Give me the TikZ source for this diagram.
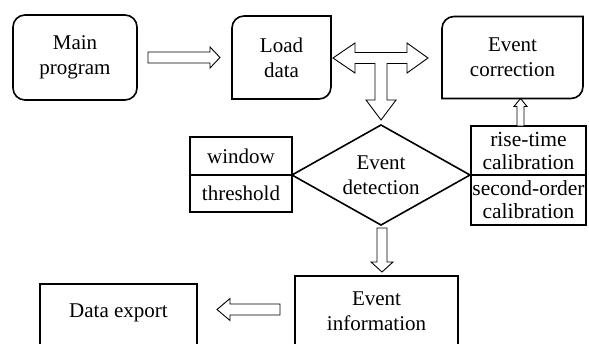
\documentclass[tikz,border=0pt]{standalone}
\usepackage{fontspec}
\setmainfont{Liberation Serif}
\usetikzlibrary{shapes,arrows,calc,positioning}

\tikzset{
  box/.style={draw, line width=1.6pt, outer sep=0pt, inner sep=0pt, align=center,
    font=\fontsize{21}{25}\selectfont},
  plain/.style={box, draw=none},
  decision/.style={box, diamond, aspect=1.78},
  calib/.style={box, font=\fontsize{21.5}{23}\selectfont, minimum width=115pt},
  blk/.style={draw, fill=white, line width=0.9pt, line join=miter},
  blockarrow/.style args={#1/#2/#3}{to path={
    let \p1=(\tikztostart), \p2=(\tikztotarget),
        \n1={atan2(\y2-\y1,\x2-\x1)}, \n2={veclen(\x2-\x1,\y2-\y1)} in
    [shift={(\p1)}, rotate=\n1]
    (0pt,#1pt) -- ({(\n2-#3)*1pt},#1pt) -- ({(\n2-#3)*1pt},#2pt) -- ({\n2*1pt},0pt)
    -- ({(\n2-#3)*1pt},-#2pt) -- ({(\n2-#3)*1pt},-#1pt) -- (0pt,-#1pt) -- cycle}}
}

\begin{document}
\begin{tikzpicture}[x=1pt, y=-1pt]
	\useasboundingbox (0,0) rectangle (589,343);
	\clip (0,0) rectangle (589,343);
	\node[box, rounded corners=12pt, minimum width=124pt, minimum height=85pt] (main) at (75,57.5) {Main\\program};
	\node[plain, minimum width=99pt, minimum height=83pt, right=95pt of main] (load) {Load\\data};
	\node[plain, minimum width=141pt, minimum height=82pt, right=111pt of load] (corr) {Event\\correction};
	\node[decision, minimum width=178pt, minimum height=100pt] (det) at (381,175) {Event\\detection};
	\node[box, minimum width=102pt, minimum height=38pt, above left=0pt and 0pt of det.west] (win) {window};
	\node[box, minimum width=102pt, minimum height=37pt, below left=0pt and 0pt of det.west] (thr) {threshold};
	\node[calib, minimum height=49pt, above right=0pt and 1pt of det.east] (rise) {rise-time\\calibration};
	\node[calib, minimum height=50pt, below right=0pt and 1pt of det.east] (sec) {second-order\\calibration};
	\node[box, minimum width=163pt, minimum height=71pt] (info) at (376.5,311.5) {Event\\information};
	\node[box, minimum width=157pt, minimum height=66pt, text height=12pt, text depth=12pt] (expo) at (118.5,317) {Data export};
	\draw[line width=1.6pt, line join=miter] (load.south west) [rounded corners=12pt] -- (load.north west) [sharp corners] -- (load.north east) [rounded corners=12pt] -- (load.south east) [sharp corners] -- cycle;
	\draw[line width=1.6pt, line join=miter] (corr.south west) [rounded corners=12pt] -- (corr.north west) [sharp corners] -- (corr.north east) [rounded corners=12pt] -- (corr.south east) [sharp corners] -- cycle;
	\coordinate (tl) at ($(load.east)+(2,0.5)$);
	\coordinate (tr) at ($(corr.west)+(-14,0.5)$);
	\coordinate (td) at ($(det.north)+(0,-5)$);
	\draw[blk] (tl) -- ++(22,-15) -- ++(0,9.5) -- ($(tr)+(-21,-5.5)$) -- ++(0,-9.5) -- (tr) -- ++(-21,15) -- ++(0,-9.5) -| ($(td)+(6,-20)$) -- ++(9,0) -- (td) -- ++(-15,-20) -- ++(9,0) |- ($(tl)+(22,5.5)$) -- ++(0,9.5) -- cycle;
	\draw[blk] ($(main.east)+(11,0)$) to[blockarrow=5.5/10.5/10] ($(load.west)+(-12,0)$);
	\draw[blk] ($(rise.north)+(-8,0)$) to[blockarrow=3.5/6.5/8] ($(corr.south)+(8,0)$);
	\draw[blk] ($(det.south)+(1,3)$) to[blockarrow=5/11/10] ($(info.north)+(5.5,-4)$);
	\draw[blk] ($(info.west)+(-15,-2)$) to[blockarrow=5.5/11/13] ($(expo.east)+(20,-7.5)$);
\end{tikzpicture}
\end{document}
